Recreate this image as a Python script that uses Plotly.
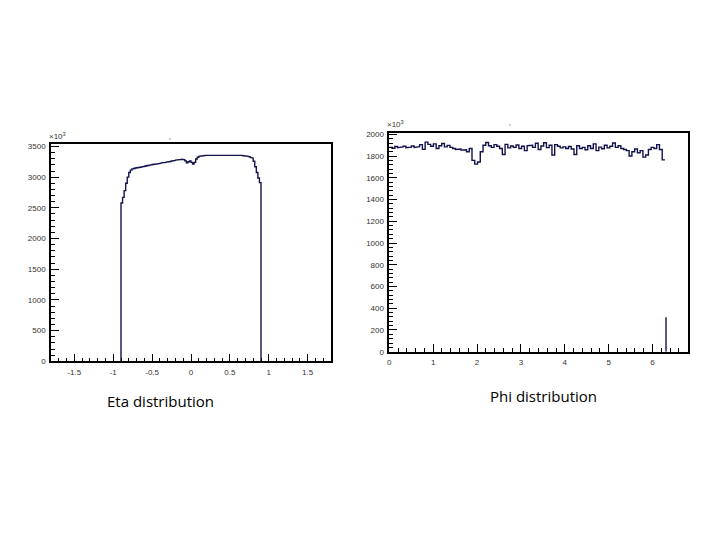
import plotly.graph_objects as go

# ---------------- data ----------------
eta_lo, eta_hi = -0.9, 0.9
eta_counts = [  # in units of 10^3, bins of 0.02 from -0.9 to 0.9
    2580, 2670, 2780, 2900, 3000, 3075, 3115, 3135, 3140, 3148,
    3152, 3158, 3162, 3168, 3172, 3178, 3185, 3190, 3196, 3200,
    3205, 3210, 3212, 3218, 3222, 3228, 3232, 3236, 3240, 3245,
    3250, 3254, 3260, 3266, 3272, 3278, 3282, 3286, 3290, 3292,
    3285, 3265, 3235, 3250, 3265, 3240, 3215, 3240, 3295, 3325,
    3340, 3348, 3350, 3352, 3355, 3356, 3358, 3360, 3360, 3362,
    3362, 3363, 3363, 3364, 3364, 3364, 3363, 3364, 3365, 3364,
    3363, 3364, 3362, 3362, 3360, 3358, 3356, 3354, 3352, 3350,
    3346, 3340, 3335, 3322, 3310, 3260, 3170, 3075, 2985, 2910,
]

phi_lo, phi_hi = 0.0, 6.2832
phi_counts = [  # in units of 10^3, 100 bins from 0 to 2*pi
    1880, 1872, 1888, 1878, 1884, 1890, 1876, 1882, 1893, 1880,
    1886, 1905, 1862, 1928, 1908, 1890, 1912, 1870, 1895, 1915,
    1885, 1898, 1880, 1870, 1860, 1865, 1855, 1858, 1840, 1870,
    1760, 1726, 1745, 1840, 1900, 1925, 1895, 1880, 1905, 1890,
    1870, 1815, 1908, 1875, 1893, 1880, 1902, 1870, 1890, 1850,
    1895, 1900, 1880, 1918, 1860, 1893, 1922, 1878, 1900, 1810,
    1905, 1890, 1875, 1885, 1870, 1888, 1865, 1815, 1895, 1870,
    1880, 1858, 1895, 1870, 1912, 1850, 1882, 1868, 1900, 1875,
    1890, 1920, 1880, 1895, 1870, 1860, 1850, 1800, 1840, 1865,
    1830, 1850, 1790, 1810, 1860, 1880, 1870, 1905, 1860, 1765,
]
spike_x = 6.307
spike_count = 316

eta_ticks = [-1.5, -1, -0.5, 0, 0.5, 1, 1.5]
eta_ticktext = ["-1.5", "-1", "-0.5", "0", "0.5", "1", "1.5"]
eta_yticks = [0, 500, 1000, 1500, 2000, 2500, 3000, 3500]
phi_ticks = [0, 1, 2, 3, 4, 5, 6]
phi_yticks = [0, 200, 400, 600, 800, 1000, 1200, 1400, 1600, 1800, 2000]

captions = ["Eta distribution", "Phi distribution"]


def step_points(lo, hi, counts, close=True):
    n = len(counts)
    w = (hi - lo) / n
    xs, ys = [], []
    if close:
        xs.append(lo); ys.append(0)
    for i, c in enumerate(counts):
        xs += [lo + i * w, lo + (i + 1) * w]
        ys += [c, c]
    if close:
        xs.append(hi); ys.append(0)
    return xs, ys


LINE = "#12124c"
OFF = 8                      # default page body margin
W, H = 720 - OFF, 540 - OFF

fig = go.Figure()

ex, ey = step_points(eta_lo, eta_hi, eta_counts)
fig.add_trace(go.Scatter(x=ex, y=ey, mode="lines", line=dict(color=LINE, width=1.4),
                         xaxis="x", yaxis="y", showlegend=False, hoverinfo="skip"))

px, py = step_points(phi_lo, phi_hi, phi_counts, close=False)
fig.add_trace(go.Scatter(x=px, y=py, mode="lines", line=dict(color=LINE, width=1.4),
                         xaxis="x2", yaxis="y2", showlegend=False, hoverinfo="skip"))
fig.add_trace(go.Scatter(x=[spike_x, spike_x], y=[0, spike_count], mode="lines",
                         line=dict(color=LINE, width=1.4),
                         xaxis="x2", yaxis="y2", showlegend=False, hoverinfo="skip"))

tickfont = dict(family="Liberation Sans, Arial, sans-serif", size=8, color="#333333")


def ax(domain, rng, tickvals, ticktext, minor_dtick, anchor):
    return dict(domain=domain, range=rng, anchor=anchor, automargin=False,
                tickvals=tickvals, ticktext=ticktext,
                ticks="inside", ticklen=8, tickwidth=1, tickcolor="#000",
                minor=dict(ticks="inside", ticklen=4, dtick=minor_dtick, tickcolor="#000", tick0=0),
                showline=True, linecolor="#000", linewidth=1.5, mirror=True,
                showgrid=False, zeroline=False, tickfont=tickfont, ticklabelstandoff=2)


def fx(p):  # page x pixel -> paper
    return (p - OFF) / W


def fy(p):  # page y pixel -> paper
    return 1 - (p - OFF) / H


L = dict(x0=51, x1=331, y0=144, y1=361.3)
R = dict(x0=389.3, x1=688.3, y0=132.7, y1=351.7)

fig.update_layout(
    width=W, height=H, margin=dict(l=0, r=0, t=0, b=0, autoexpand=False),
    paper_bgcolor="white", plot_bgcolor="white",
    xaxis=ax([fx(L["x0"]), fx(L["x1"])], [-1.8, 1.8], eta_ticks, eta_ticktext, 0.1, "y"),
    yaxis=ax([fy(L["y1"]), fy(L["y0"])], [0, 3540], eta_yticks,
             [str(v) for v in eta_yticks], 100, "x"),
    xaxis2=ax([fx(R["x0"]), fx(R["x1"])], [0, 6.815], phi_ticks,
              [str(v) for v in phi_ticks], 0.2, "y2"),
    yaxis2=ax([fy(R["y1"]), fy(R["y0"])], [0, 2015], phi_yticks,
              [str(v) for v in phi_yticks], 40, "x2"),
)

anns = [
    dict(x=fx(L["x0"] + 6), y=fy(L["y0"] - 1), text="×10<sup>3</sup>"),
    dict(x=fx(R["x0"] + 6), y=fy(R["y0"] - 2), text="×10<sup>3</sup>"),
]
for a in anns:
    fig.add_annotation(xref="paper", yref="paper", x=a["x"], y=a["y"], text=a["text"],
                       showarrow=False, xanchor="center", yanchor="bottom",
                       font=dict(family="Liberation Sans, Arial, sans-serif", size=8, color="#333"))

for txt, cx, cy in [(captions[0], 160, 401), (captions[1], 543, 396)]:
    fig.add_annotation(xref="paper", yref="paper", x=fx(cx), y=fy(cy), text=txt,
                       showarrow=False, xanchor="center", yanchor="middle",
                       font=dict(family="Open Sans, Liberation Sans, sans-serif", size=15, color="#000"))

# tiny title marks above each frame
for cx, cy in [(167, 132), (513, 118)]:
    fig.add_annotation(xref="paper", yref="paper", x=fx(cx), y=fy(cy), text="'",
                       showarrow=False, font=dict(size=8, color="#555"))

fig.write_html("out.html")
